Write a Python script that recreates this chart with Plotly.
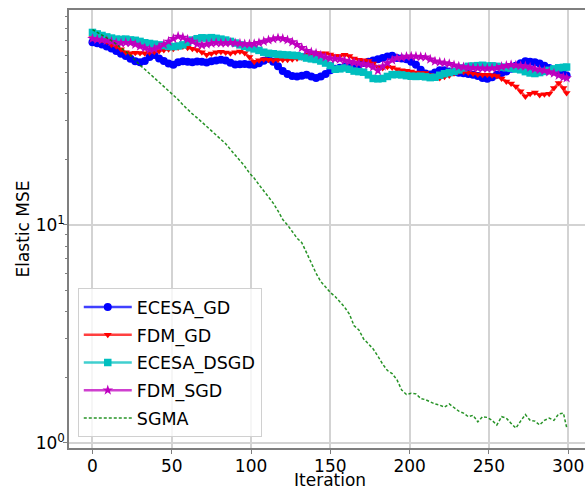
import plotly.graph_objects as go

iterations = list(range(0, 300, 3)) + [299]

ecesa_gd = [68.9, 68.2, 67.3, 65.8, 64.5, 62.8, 61.0, 59.5, 57.8, 56.3,
            55.8, 56.5, 59.0, 60.2, 58.0, 56.5, 55.0, 54.3, 55.8, 56.3,
            56.0, 55.7, 56.2, 56.0, 55.6, 56.3, 56.8, 57.3, 56.8, 55.5,
            54.5, 54.6, 54.8, 54.4, 54.3, 55.2, 56.6, 57.8, 56.0, 53.5,
            50.8, 49.3, 48.2, 48.0, 48.3, 48.9, 48.0, 47.2, 48.0, 49.3,
            51.3, 52.0, 52.6, 53.0, 53.5, 54.0, 54.5, 55.3, 56.0, 56.8,
            57.5, 58.3, 59.3, 59.8, 58.3, 58.0, 57.5, 56.0, 54.3, 51.5,
            49.5, 49.0, 50.0, 51.3, 51.2, 50.6, 50.3, 49.9, 49.6, 49.2,
            48.9, 48.2, 47.2, 46.8, 47.6, 48.9, 49.8, 50.6, 52.0, 53.8,
            55.2, 56.3, 56.0, 55.8, 55.0, 53.8, 52.5, 51.0, 50.0, 49.0,
            48.5]

fdm_gd = [72.0, 71.5, 70.8, 69.5, 67.0, 66.0, 64.0, 62.0, 61.3, 61.6,
          61.5, 61.3, 61.8, 62.3, 62.8, 63.5, 63.9, 64.3, 65.2, 65.9,
          65.0, 64.3, 63.5, 62.0, 60.4, 61.2, 62.0, 62.3, 61.8, 61.3,
          61.9, 62.5, 61.5, 59.0, 56.0, 57.0, 57.5, 57.2, 57.0, 57.2,
          57.3, 57.2, 57.5, 58.0, 58.8, 60.4, 60.8, 61.5, 61.2, 61.3,
          60.5, 59.5, 59.6, 60.4, 59.5, 58.0, 57.3, 57.0, 56.5, 55.0,
          53.0, 52.5, 53.2, 52.8, 51.8, 51.3, 51.0, 50.6, 50.0, 49.8,
          49.8, 48.8, 47.8, 47.2, 47.8, 48.5, 49.6, 50.6, 50.4, 50.0,
          49.5, 49.0, 48.9, 48.9, 48.6, 48.2, 47.0, 45.5, 44.5, 43.2,
          41.0, 38.8, 40.0, 40.5, 39.5, 39.8, 40.0, 42.5, 44.8, 42.5,
          40.3]

ecesa_dsgd = [76.4, 75.2, 74.0, 72.9, 72.0, 71.2, 71.0, 71.2, 70.6, 70.3,
              69.5, 68.5, 68.0, 67.5, 67.0, 66.5, 65.9, 65.8, 66.2, 67.0,
              68.8, 70.5, 71.5, 72.2, 72.0, 72.3, 71.8, 71.2, 70.5, 69.5,
              68.3, 67.0, 66.0, 65.0, 64.2, 63.2, 62.0, 61.3, 61.0, 60.6,
              60.4, 60.2, 60.0, 59.8, 59.2, 58.3, 57.8, 57.4, 56.5, 55.3,
              53.8, 51.8, 52.0, 52.5, 51.8, 50.8, 50.5, 50.2, 48.8, 47.0,
              46.8, 47.0, 48.0, 48.9, 49.0, 48.8, 48.4, 48.1, 48.0, 48.1,
              47.8, 47.4, 47.6, 48.6, 49.4, 50.0, 50.6, 51.4, 52.5, 53.4,
              53.6, 53.8, 54.0, 53.6, 53.7, 53.4, 53.0, 52.6, 52.3, 51.9,
              51.5, 50.5, 49.8, 49.5, 50.0, 50.6, 51.2, 52.0, 52.6, 52.8,
              53.0]

fdm_sgd = [71.5, 71.0, 70.6, 70.1, 69.3, 68.5, 68.2, 68.6, 68.5, 67.3,
           66.0, 64.8, 63.7, 64.2, 65.5, 67.3, 69.5, 71.5, 73.3, 72.5,
           71.0, 69.5, 67.5, 66.8, 67.5, 68.0, 68.5, 68.2, 68.3, 68.6,
           68.2, 68.0, 67.6, 67.5, 67.8, 68.5, 69.5, 70.5, 71.3, 72.0,
           71.5, 70.5, 69.0, 67.1, 65.0, 63.0, 62.0, 61.2, 60.0, 58.8,
           58.2, 57.8, 57.5, 56.8, 56.2, 55.6, 55.1, 54.7, 54.2, 53.0,
           51.0, 53.5, 55.3, 57.0, 58.3, 58.7, 59.2, 59.4, 59.3, 59.1,
           58.8, 57.5, 56.3, 55.8, 55.4, 54.9, 54.1, 53.4, 53.0, 52.7,
           52.5, 52.4, 52.3, 52.2, 52.4, 52.5, 53.2, 53.8, 54.3, 54.0,
           53.7, 53.5, 52.8, 52.0, 51.5, 51.0, 50.3, 49.6, 48.5, 47.6,
           47.2]

sgma = [78.7, 76.5, 74.5, 72.3, 70.0, 67.5, 65.0, 62.8, 60.0, 57.0,
        54.0, 51.8, 49.5, 47.3, 45.2, 43.2, 41.2, 39.3, 37.6, 35.6,
        33.8, 32.3, 31.0, 29.6, 28.2, 27.0, 25.8, 24.8, 23.6, 22.2,
        21.0, 19.8, 18.6, 17.3, 16.4, 15.3, 14.3, 13.4, 12.6, 11.6,
        10.6, 10.0, 9.3, 8.7, 8.3, 7.4, 6.7, 6.0, 5.5, 5.2,
        4.9, 4.7, 4.45, 4.2, 3.9, 3.45, 3.3, 3.0, 2.85, 2.7,
        2.5, 2.3, 2.15, 2.08, 1.95, 1.75, 1.67, 1.69, 1.68, 1.60,
        1.58, 1.54, 1.51, 1.49, 1.46, 1.51, 1.46, 1.40, 1.37, 1.32,
        1.34, 1.25, 1.32, 1.31, 1.27, 1.21, 1.32, 1.30, 1.23, 1.17,
        1.26, 1.35, 1.27, 1.26, 1.21, 1.27, 1.30, 1.27, 1.36, 1.37,
        1.18]

x_ticks = [0, 50, 100, 150, 200, 250, 300]
y_ticks = [1, 10]
y_tick_text = ["10<sup>0</sup>", "10<sup>1</sup>"]
y_minor = [2, 3, 4, 5, 6, 7, 8, 9, 20, 30, 40, 50, 60, 70, 80, 90]

FONT = "DejaVu Sans"

fig = go.Figure()

series = [
    ("ECESA_GD", ecesa_gd, "rgba(0,0,255,0.75)", "#0000ff", "circle", 8),
    ("FDM_GD", fdm_gd, "rgba(255,0,0,0.75)", "#ff0000", "triangle-down", 7),
    ("ECESA_DSGD", ecesa_dsgd, "rgba(0,191,191,0.75)", "#00bfbf", "square", 7.5),
    ("FDM_SGD", fdm_sgd, "rgba(191,0,191,0.75)", "#bf00bf", "star", 8),
]
for name, vals, lc, mc, sym, ms in series:
    fig.add_trace(go.Scatter(
        x=iterations, y=vals, name=name, mode="lines+markers",
        line=dict(color=lc, width=2.5),
        marker=dict(color=mc, symbol=sym, size=ms, line=dict(width=0)),
        legendgroup=name,
    ))

fig.add_trace(go.Scatter(
    x=iterations, y=sgma, name="SGMA", mode="lines",
    line=dict(color="rgba(0,128,0,0.85)", width=1.5, dash="3px,2px"),
    legendgroup="SGMA",
))

fig.update_layout(
    width=585, height=487,
    margin=dict(l=69, r=0, t=10, b=39),
    paper_bgcolor="white", plot_bgcolor="white",
    font=dict(family=FONT, size=17, color="black"),
    showlegend=True,
    legend=dict(
        x=0.017, y=0.025, xanchor="left", yanchor="bottom",
        bgcolor="rgba(255,255,255,0.8)", bordercolor="#d0d0d0", borderwidth=1,
        font=dict(family=FONT, size=17.5, color="black"),
        traceorder="grouped", tracegroupgap=2, itemwidth=48,
    ),
    xaxis=dict(
        range=[-14.8, 310.6], tickmode="array", tickvals=x_ticks,
        showgrid=True, gridcolor="#d3d3d3", gridwidth=1.5,
        showline=True, linecolor="#7f7f7f", linewidth=1.5, mirror=True,
        ticks="outside", ticklen=4, tickcolor="#7f7f7f",
        zeroline=False, automargin=False, ticklabelstandoff=-2,
        tickfont=dict(size=17),
    ),
    yaxis=dict(
        type="log", range=[-0.023, 1.986],
        tickmode="array", tickvals=y_ticks, ticktext=y_tick_text,
        showgrid=True, gridcolor="#d3d3d3", gridwidth=1.5,
        showline=True, linecolor="#7f7f7f", linewidth=1.5, mirror=False,
        ticks="outside", ticklen=4, tickcolor="#7f7f7f",
        minor=dict(tickmode="array", tickvals=y_minor, ticks="outside",
                   ticklen=2, tickcolor="#7f7f7f", showgrid=False),
        zeroline=False, automargin=False, ticklabelstandoff=-5,
        title=dict(text="Elastic MSE", font=dict(size=17), standoff=2),
        tickfont=dict(size=17),
    ),
    annotations=[dict(
        text="Iteration", xref="paper", yref="paper", x=0.506, y=-0.073,
        xanchor="center", yanchor="middle", showarrow=False,
        font=dict(family=FONT, size=17, color="black"),
    )],
)

fig.write_html("out.html", config={"displayModeBar": False},
               post_script="document.body.style.margin='0';")
